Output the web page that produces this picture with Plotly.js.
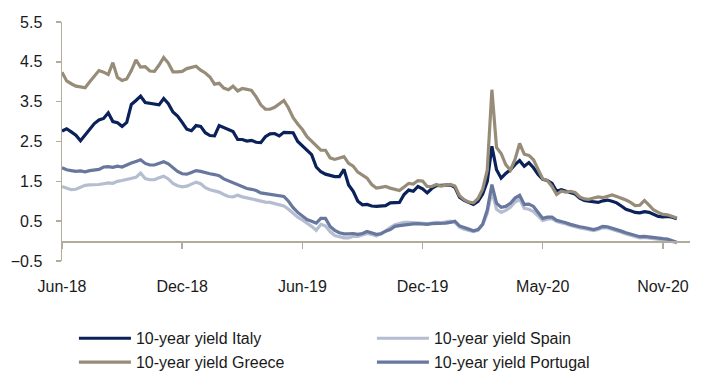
<!DOCTYPE html>
<html>
<head>
<meta charset="utf-8">
<script src="https://cdn.plot.ly/plotly-3.0.1.min.js"></script>
<style>
html,body{margin:0;padding:0;background:#fff;}
#chart{width:706px;height:372px;}
</style>
</head>
<body>
<div id="chart"></div>
<script>
// Weekly observations starting from the first week of June 2018
const startDate = '2018-06-04';
const tickDates = ['2018-06-04','2018-12-03','2019-06-03','2019-12-02','2020-06-01','2020-11-30'];
const tickLabels = ['Jun-18','Dec-18','Jun-19','Dec-19','May-20','Nov-20'];
const axisEnd = '2021-01-10';

const seriesNames = ['10-year yield Italy','10-year yield Spain','10-year yield Greece','10-year yield Portugal'];

const italy = [2.76,2.82,2.74,2.66,2.52,2.66,2.80,2.95,3.04,3.08,
3.22,3.00,2.97,2.88,2.98,3.43,3.53,3.64,3.48,3.46,
3.44,3.42,3.58,3.45,3.24,3.14,2.98,2.81,2.77,2.90,
2.88,2.72,2.65,2.64,2.90,2.85,2.82,2.75,2.55,2.55,
2.51,2.53,2.48,2.47,2.62,2.69,2.70,2.64,2.73,2.72,
2.72,2.50,2.39,2.29,2.17,1.86,1.74,1.68,1.64,1.62,
1.62,1.80,1.41,1.25,1.00,0.91,0.92,0.88,0.87,0.88,
0.89,0.96,0.97,0.97,1.17,1.28,1.25,1.37,1.31,1.21,
1.32,1.39,1.40,1.41,1.41,1.35,1.10,1.02,0.96,0.92,
1.00,1.18,1.50,2.38,1.79,1.58,1.70,1.79,1.92,2.02,
1.88,1.97,1.84,1.67,1.55,1.52,1.45,1.25,1.29,1.25,
1.22,1.18,1.08,1.02,1.00,0.99,0.97,1.01,1.03,1.00,
0.96,0.88,0.80,0.76,0.72,0.71,0.74,0.72,0.66,0.62,
0.61,0.62,0.60,0.56];

const spain = [1.37,1.33,1.29,1.30,1.36,1.40,1.41,1.41,1.42,1.44,
1.46,1.45,1.50,1.52,1.55,1.57,1.60,1.71,1.57,1.54,
1.54,1.59,1.63,1.56,1.45,1.39,1.36,1.38,1.43,1.48,
1.44,1.34,1.29,1.26,1.23,1.17,1.12,1.11,1.15,1.11,
1.08,1.06,1.04,1.00,0.98,0.97,0.94,0.93,0.88,0.80,
0.69,0.60,0.53,0.46,0.37,0.27,0.42,0.38,0.24,0.14,
0.11,0.08,0.08,0.12,0.12,0.16,0.19,0.17,0.13,0.20,
0.25,0.34,0.41,0.44,0.47,0.47,0.46,0.47,0.45,0.44,
0.45,0.47,0.46,0.47,0.50,0.47,0.35,0.30,0.27,0.24,
0.27,0.42,0.70,1.25,0.80,0.72,0.77,0.85,0.98,1.05,
0.82,0.80,0.74,0.62,0.52,0.55,0.56,0.49,0.47,0.43,
0.39,0.35,0.33,0.31,0.28,0.26,0.29,0.34,0.33,0.30,
0.26,0.22,0.18,0.15,0.11,0.08,0.09,0.07,0.06,0.03,
0.03,0.02,-0.01,-0.05];

const greece = [4.24,4.02,3.95,3.89,3.87,3.85,4.00,4.14,4.28,4.24,
4.18,4.48,4.11,4.03,4.07,4.28,4.55,4.37,4.38,4.27,
4.26,4.42,4.61,4.47,4.25,4.25,4.26,4.33,4.37,4.39,
4.29,4.22,4.12,3.94,3.96,3.84,3.80,3.89,3.77,3.83,
3.81,3.78,3.62,3.42,3.31,3.31,3.36,3.45,3.53,3.34,
3.10,2.94,2.80,2.62,2.51,2.39,2.28,2.28,2.09,2.05,
2.08,2.12,1.95,1.88,1.73,1.66,1.58,1.42,1.33,1.35,
1.37,1.33,1.29,1.27,1.36,1.45,1.43,1.52,1.51,1.37,
1.37,1.42,1.38,1.40,1.42,1.38,1.14,1.04,0.98,0.96,
1.07,1.30,1.78,3.80,2.35,2.20,1.92,1.78,2.05,2.45,
2.18,2.15,2.04,1.80,1.56,1.52,1.37,1.17,1.25,1.23,
1.25,1.22,1.11,1.06,1.05,1.08,1.11,1.09,1.13,1.16,
1.12,1.08,1.03,0.97,0.89,0.90,1.02,0.90,0.78,0.72,
0.67,0.66,0.63,0.58];

const portugal = [1.84,1.79,1.77,1.75,1.76,1.74,1.77,1.79,1.80,1.86,
1.87,1.85,1.88,1.86,1.92,1.96,2.00,2.04,1.95,1.91,
1.91,1.94,1.99,1.94,1.85,1.75,1.69,1.68,1.72,1.77,
1.75,1.71,1.69,1.67,1.64,1.56,1.51,1.45,1.40,1.36,
1.32,1.30,1.27,1.21,1.19,1.17,1.15,1.14,1.12,1.00,
0.84,0.72,0.63,0.54,0.50,0.45,0.57,0.57,0.37,0.27,
0.21,0.18,0.18,0.19,0.17,0.19,0.24,0.20,0.17,0.18,
0.25,0.29,0.37,0.39,0.41,0.42,0.43,0.44,0.43,0.42,
0.44,0.44,0.44,0.45,0.47,0.50,0.38,0.33,0.30,0.26,
0.29,0.42,0.78,1.42,0.95,0.85,0.87,0.95,1.08,1.15,
0.92,0.93,0.87,0.72,0.57,0.60,0.60,0.52,0.50,0.46,
0.42,0.38,0.36,0.34,0.31,0.29,0.32,0.37,0.36,0.33,
0.29,0.25,0.21,0.18,0.14,0.11,0.12,0.10,0.09,0.06,
0.06,0.05,0.02,-0.03];

function weeklyDates(start, n) {
  const out = [];
  const d0 = new Date(start + 'T00:00:00Z');
  for (let i = 0; i < n; i++) {
    const d = new Date(d0.getTime() + i * 7 * 86400000);
    out.push(d.toISOString().slice(0, 10));
  }
  return out;
}
const dates = weeklyDates(startDate, italy.length);

const colors = ['#0b2159', '#b5bdd1', '#978c78', '#68779d'];
const values = [italy, spain, greece, portugal];
const axisColor = '#b3ab9c';
const font = 'Arial, "Liberation Sans", sans-serif';

const traces = values.map((v, i) => ({
  type: 'scatter', mode: 'lines', x: dates, y: v, name: seriesNames[i],
  line: {color: colors[i], width: 3.2}
}));

const layout = {
  width: 706, height: 372,
  margin: {l: 62, r: 16, t: 22, b: 111, autoexpand: false},
  paper_bgcolor: '#fff', plot_bgcolor: '#fff',
  font: {family: font, size: 16, color: '#1a1a1a'},
  showlegend: true,
  legend: {
    orientation: 'h', x: 0.019, xanchor: 'left', y: -0.2525, yanchor: 'top',
    entrywidth: 231, entrywidthmode: 'pixels', itemwidth: 52,
    font: {family: font, size: 16, color: '#1a1a1a'},
    traceorder: 'normal', bgcolor: 'rgba(0,0,0,0)'
  },
  xaxis: {
    type: 'date', range: [startDate, axisEnd],
    anchor: 'free', position: 1/12,
    showline: true, linecolor: axisColor, linewidth: 1.5,
    ticks: 'outside', ticklen: 6, tickcolor: axisColor, tickwidth: 1.5,
    tickmode: 'array', tickvals: tickDates, ticktext: tickLabels,
    ticklabelstandoff: 24,
    showgrid: false, zeroline: false,
    tickfont: {family: font, size: 16, color: '#1a1a1a'}
  },
  yaxis: {
    range: [-0.5, 5.5], tick0: -0.5, dtick: 1,
    showline: true, linecolor: axisColor, linewidth: 1.5,
    ticks: 'outside', ticklen: 5, tickcolor: axisColor, tickwidth: 1.5,
    ticklabelstandoff: 10,
    showgrid: false, zeroline: false,
    tickformat: '.1f',
    tickfont: {family: font, size: 16, color: '#1a1a1a'}
  }
};

Plotly.newPlot('chart', traces, layout, {displayModeBar: false, staticPlot: true});
</script>
</body>
</html>
